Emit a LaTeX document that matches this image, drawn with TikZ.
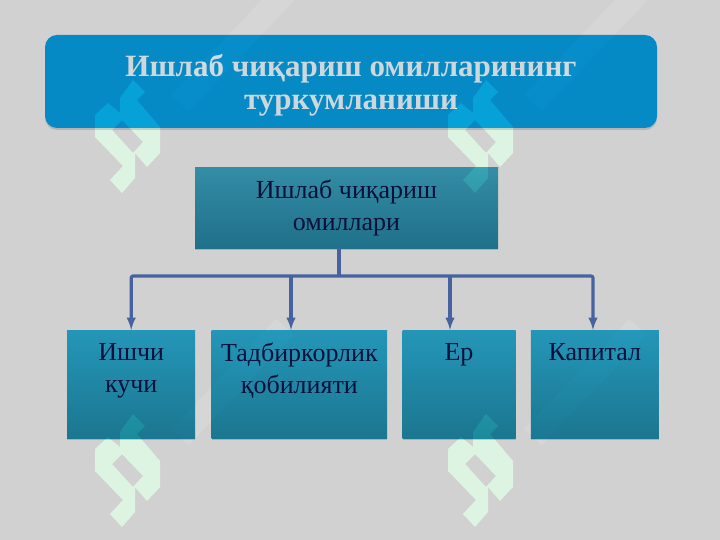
\documentclass[tikz,border=0pt]{standalone}
\usepackage{fontspec}
\setmainfont{Liberation Serif}
\usetikzlibrary{positioning,shadows}
\definecolor{pagegray}{RGB}{209,209,209}
\definecolor{bannerblue}{RGB}{6,138,198}
\definecolor{linkblue}{RGB}{72,98,160}
\definecolor{boxink}{RGB}{8,16,60}
\definecolor{bannerink}{RGB}{205,215,220}
\definecolor{headtop}{RGB}{52,140,165}
\definecolor{headbottom}{RGB}{32,112,138}
\definecolor{subtop}{RGB}{36,150,184}
\definecolor{subbottom}{RGB}{28,118,144}
\definecolor{markdodge}{RGB}{15,37,20}
\definecolor{faintdodge}{RGB}{6,6,6}
\tikzset{
    banner/.style={
            rectangle,
            rounded corners=12pt,
            fill=bannerblue,
            drop shadow={shadow xshift=0pt,shadow yshift=-2pt,opacity=.35},
            minimum width=612pt,
            minimum height=93pt,
            align=center,
            text=bannerink,
            font=\fontsize{31}{33}\selectfont\bfseries
        },
    factor/.style={
            rectangle,
            drop shadow={shadow xshift=0pt,shadow yshift=-2pt,opacity=.4},
            align=center,
            text=boxink,
            font=\fontsize{26}{32}\selectfont,
            inner sep=0pt
        },
    head/.style={
            factor,
            top color=headtop,
            bottom color=headbottom,
            minimum width=303pt,
            minimum height=80pt
        },
    sub/.style={
            factor,
            top color=subtop,
            bottom color=subbottom,
            minimum height=108pt,
            anchor=north west
        },
    connector/.style={
            line width=3.2pt,
            draw=linkblue,
            -latex
        }
}
\begin{document}
\begin{tikzpicture}[x=1pt,y=-1pt]
  \useasboundingbox[fill=pagegray] (0,0) rectangle (720,540);
  \node[banner] (title) at (351,81.5) {\rule{0pt}{29pt}Ишлаб чиқариш омилларининг\\туркумланиши};
  \node[head] (factors) at (346.5,208) {Ишлаб чиқариш\\омиллари};
  \coordinate (bus) at (339,276);
  \node[sub,minimum width=128pt] (worker) at (67,330) {Ишчи\\кучи\\~};
  \node[sub,minimum width=175.5pt,right=16pt of worker.north east,anchor=north west] (skill) {Тадбиркорлик\\қобилияти\\~};
  \node[sub,minimum width=113pt,right=15pt of skill.north east,anchor=north west] (land) {Ер\\~\\~};
  \node[sub,minimum width=128pt,right=15pt of land.north east,anchor=north west] (capital) {Капитал\\~\\~};
  \draw[line width=3.2pt,draw=linkblue] (factors.south -| bus) -- (bus);
  \draw[connector,rounded corners=2pt] (bus) -| (worker.north);
  \draw[connector,rounded corners=2pt] (bus) -| (593,330);
  \draw[connector] (291,276) -- (291,330);
  \draw[connector] (450,276) -- (450,330);
  % watermark signs
  \foreach \markx/\marky in {120/138,473/138,120/472,473/472}{
    \draw[faintdodge,blend mode=color dodge,line width=24pt,shift={(\markx,\marky)}] (60,-35) -- (165,-145);
    \fill[markdodge,blend mode=color dodge,even odd rule,shift={(\markx,\marky)}]
      (13,-58) -- (25,-46) -- (17,-38) -- (40,-11) -- (40,15) -- (27,29) -- (15,15) -- (15,40) -- (2,55) -- (-10,42) -- (3,28) -- (-25,-1) -- (-25,-23) -- (-12,-35) -- (0,-25) -- (0,-40) -- cycle
      (-8,-8) -- (2,-18) -- (23,4) -- (13,15) -- cycle;
  }
\end{tikzpicture}
\end{document}
